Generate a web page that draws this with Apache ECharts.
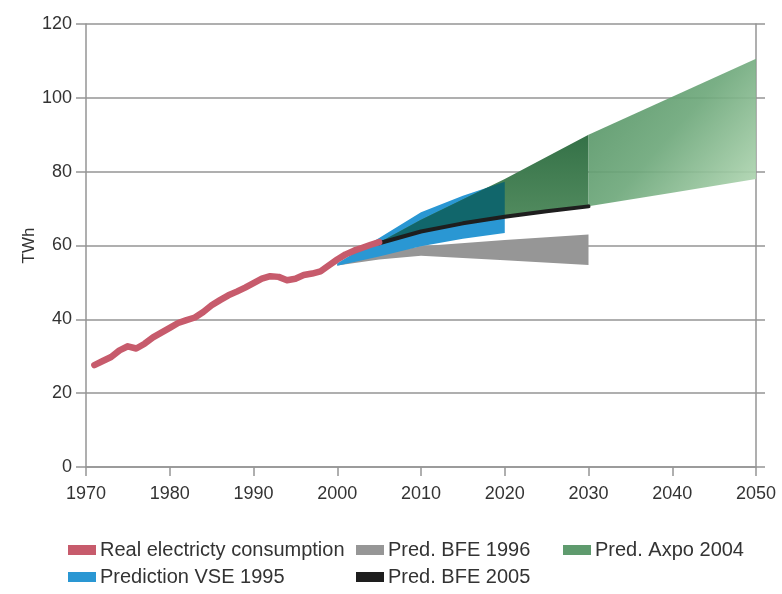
<!DOCTYPE html>
<html>
<head>
<meta charset="utf-8">
<script src="https://cdn.jsdelivr.net/npm/echarts@6/dist/echarts.min.js"></script>
<style>
  html, body { margin: 0; padding: 0; background: #fff; }
  #chart { width: 782px; height: 594px; }
</style>
</head>
<body>
<div id="chart"></div>
<script>
// Real consumption (TWh)
const realYears = [1971, 1972, 1973, 1974, 1975, 1976, 1977, 1978, 1979, 1980,
  1981, 1982, 1983, 1984, 1985, 1986, 1987, 1988, 1989, 1990,
  1991, 1992, 1993, 1994, 1995, 1996, 1997, 1998, 1999, 2000,
  2001, 2002, 2003, 2004, 2005];
const realValues = [27.6, 28.7, 29.8, 31.6, 32.7, 32.1, 33.4, 35.1, 36.4, 37.7,
  39.0, 39.8, 40.5, 42.0, 43.8, 45.2, 46.5, 47.5, 48.6, 49.8,
  51.0, 51.7, 51.5, 50.6, 51.0, 52.0, 52.4, 53.0, 54.6, 56.2,
  57.6, 58.6, 59.4, 60.2, 60.9];

// Prediction VSE 1995 (band)
const vseYears = [2000, 2005, 2010, 2015, 2020];
const vseLow = [54.5, 57.0, 59.8, 61.8, 63.4];
const vseHigh = [55.2, 62.0, 69.0, 73.5, 77.3];

// Pred. BFE 1996 (band)
const bfe96Years = [2000, 2005, 2010, 2020, 2030];
const bfe96Low = [54.6, 56.2, 57.2, 56.0, 54.7];
const bfe96High = [55.0, 57.6, 59.8, 61.5, 63.0];

// Pred. BFE 2005 (line)
const bfe05Years = [2005, 2010, 2015, 2020, 2025, 2030];
const bfe05Values = [60.6, 63.8, 66.0, 67.8, 69.3, 70.6];

// Pred. Axpo 2004 (band)
const axpoYears = [2005, 2010, 2020, 2030, 2040, 2050];
const axpoLow = [60.6, 63.8, 67.8, 70.6, 74.3, 78.0];
const axpoHigh = [60.8, 67.0, 78.0, 90.0, 100.3, 110.6];

const yTicks = [0, 20, 40, 60, 80, 100, 120];

const textColor = '#333';
const lineColor = '#959595';
const font = 'Liberation Sans, Arial, sans-serif';

function polygonPoints(api, years, low, high) {
  const top = years.map((y, i) => api.coord([y, high[i]]));
  const bottom = years.map((y, i) => api.coord([y, low[i]])).reverse();
  return top.concat(bottom);
}

function bandSeries(name, years, low, high, color, z) {
  return {
    name,
    type: 'custom',
    z,
    itemStyle: { color },
    data: years.map((y, i) => [y, low[i], high[i]]),
    encode: { x: 0, y: [1, 2] },
    renderItem: (params, api) => {
      if (params.dataIndex !== 0) return null;
      return {
        type: 'polygon',
        shape: { points: polygonPoints(api, years, low, high) },
        style: { fill: color }
      };
    }
  };
}

// Axpo band: darker part up to 2030, lighter fading part after;
// where it covers the VSE band the overlap turns teal
const axpoSeries = {
  name: 'Pred. Axpo 2004',
  type: 'custom',
  z: 4,
  itemStyle: { color: '#5f9b6e' },
  data: axpoYears.map((y, i) => [y, axpoLow[i], axpoHigh[i]]),
  encode: { x: 0, y: [1, 2] },
  renderItem: (params, api) => {
    if (params.dataIndex !== 0) return null;
    const all = axpoYears.map((y, i) => i);
    const idxA = all.filter(i => axpoYears[i] <= 2030);
    const idxB = all.filter(i => axpoYears[i] >= 2030);
    const pick = (arr, idx) => idx.map(i => arr[i]);
    const ptsA = polygonPoints(api, pick(axpoYears, idxA), pick(axpoLow, idxA), pick(axpoHigh, idxA));
    const ptsB = polygonPoints(api, pick(axpoYears, idxB), pick(axpoLow, idxB), pick(axpoHigh, idxB));
    return {
      type: 'group',
      children: [
        {
          type: 'polygon',
          shape: { points: ptsA },
          style: {
            fill: new echarts.graphic.LinearGradient(0, 0, 0, 1, [
              { offset: 0, color: '#347147' },
              { offset: 1, color: '#5b9366' }
            ])
          }
        },
        {
          type: 'polygon',
          shape: { points: ptsB },
          style: {
            fill: new echarts.graphic.LinearGradient(0, 0, 1, 1, [
              { offset: 0, color: '#4d8d5e' },
              { offset: 0.5, color: '#6ea87b' },
              { offset: 1, color: '#b9dcb9' }
            ]),
            opacity: 0.92
          }
        },
        {
          type: 'polygon',
          shape: { points: polygonPoints(api, vseYears, vseLow, vseHigh) },
          style: { fill: '#11666b' },
          clipPath: { type: 'polygon', shape: { points: ptsA } }
        }
      ]
    };
  }
};

function legendAt(name, left, top) {
  return {
    data: [name],
    left, top,
    padding: 0,
    icon: 'rect',
    itemWidth: 28,
    itemHeight: 10,
    itemGap: 0,
    selectedMode: false,
    textStyle: { fontSize: 20, color: textColor, fontFamily: font, padding: [0, 0, 0, -1] }
  };
}

const chart = echarts.init(document.getElementById('chart'));
chart.setOption({
  animation: false,
  backgroundColor: '#fff',
  grid: { left: 86, right: 26, top: 24, bottom: 127 },
  legend: [
    legendAt('Real electricty consumption', 68, 540),
    legendAt('Pred. BFE 1996', 356, 540),
    legendAt('Pred. Axpo 2004', 563, 540),
    legendAt('Prediction VSE 1995', 68, 567),
    legendAt('Pred. BFE 2005', 356, 567)
  ],
  xAxis: {
    type: 'value',
    min: 1970,
    max: 2050,
    interval: 10,
    axisLine: { show: true, lineStyle: { color: lineColor, width: 1.5 } },
    axisTick: { show: true, length: 9, lineStyle: { color: lineColor, width: 1.5 } },
    axisLabel: { color: textColor, fontSize: 18, fontFamily: font, margin: 18, formatter: v => String(v) },
    splitLine: { show: false }
  },
  yAxis: [
    {
      type: 'value',
      min: 0,
      max: 120,
      interval: 20,
      name: 'TWh',
      nameLocation: 'middle',
      nameMoveOverlap: false,
      nameGap: 48,
      nameTextStyle: { color: textColor, fontSize: 17, fontFamily: font },
      axisLine: { show: true, lineStyle: { color: lineColor, width: 1.5 } },
      axisTick: { show: true, length: 10, lineStyle: { color: lineColor, width: 1.5 } },
      axisLabel: {
        color: textColor, fontSize: 18, fontFamily: font, margin: 14,
        formatter: v => (yTicks.includes(v) ? String(v) : '')
      },
      splitLine: { show: true, lineStyle: { color: lineColor, width: 1.5 } }
    },
    {
      type: 'value',
      position: 'right',
      min: 0,
      max: 120,
      interval: 20,
      axisLine: { show: true, lineStyle: { color: lineColor, width: 1.5 } },
      axisTick: { show: true, length: 9, lineStyle: { color: lineColor, width: 1.5 } },
      axisLabel: { show: false },
      splitLine: { show: false }
    }
  ],
  series: [
    bandSeries('Pred. BFE 1996', bfe96Years, bfe96Low, bfe96High, '#969696', 2),
    bandSeries('Prediction VSE 1995', vseYears, vseLow, vseHigh, '#2a97d3', 3),
    axpoSeries,
    {
      name: 'Pred. BFE 2005',
      type: 'line',
      z: 5,
      symbol: 'none',
      itemStyle: { color: '#1e1e1e' },
      lineStyle: { color: '#1e1e1e', width: 4, cap: 'round' },
      data: bfe05Years.map((y, i) => [y, bfe05Values[i]])
    },
    {
      name: 'Real electricty consumption',
      type: 'line',
      z: 6,
      symbol: 'none',
      itemStyle: { color: '#c75b6c' },
      lineStyle: { color: '#c75b6c', width: 6.5, cap: 'round', join: 'round' },
      data: realYears.map((y, i) => [y, realValues[i]])
    }
  ]
});
</script>
</body>
</html>
